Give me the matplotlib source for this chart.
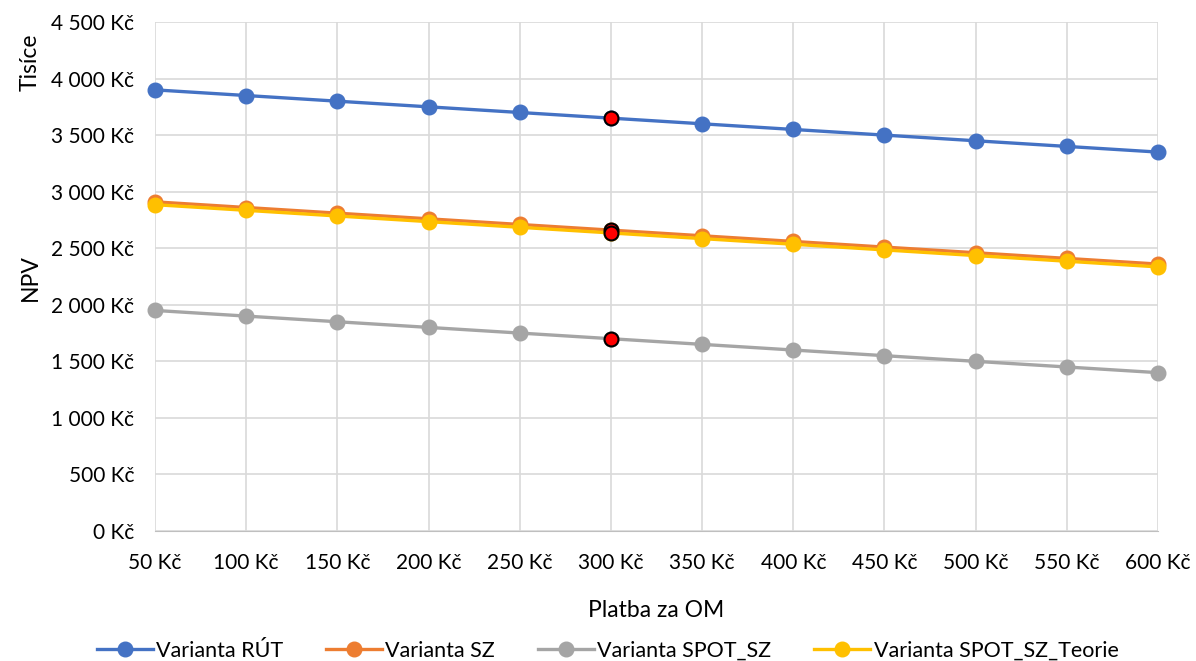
import matplotlib
matplotlib.use("Agg")
import matplotlib.pyplot as plt
from matplotlib.ticker import FuncFormatter, MultipleLocator

plt.rcParams['font.family'] = ['Lato', 'DejaVu Sans']

platba = [50, 100, 150, 200, 250, 300, 350, 400, 450, 500, 550, 600]
rut = [3900, 3850, 3800, 3750, 3700, 3650, 3600, 3550, 3500, 3450, 3400, 3350]
sz = [2910, 2860, 2810, 2760, 2710, 2660, 2610, 2560, 2510, 2460, 2410, 2360]
spot_sz = [1950, 1900, 1850, 1800, 1750, 1700, 1650, 1600, 1550, 1500, 1450, 1400]
spot_teorie = [2885, 2835, 2785, 2735, 2685, 2635, 2585, 2535, 2485, 2435, 2385, 2335]
names = ["Varianta RÚT", "Varianta SZ", "Varianta SPOT_SZ", "Varianta SPOT_SZ_Teorie"]
colors = ["#4472C4", "#ED7D31", "#A5A5A5", "#FFC000"]
highlight_x = 300

fig = plt.figure(figsize=(11.96, 6.61), dpi=100)
ax = fig.add_axes([155/1196, 1 - 531/661, (1158-155)/1196, (531-22)/661])

series = [rut, sz, spot_sz, spot_teorie]
for vals, name, c in zip(series, names, colors):
    ax.plot(platba, vals, color=c, lw=2.4, marker='o', ms=10.5, label=name,
            markeredgecolor=c, zorder=3, clip_on=False)

hi = platba.index(highlight_x)
for vals in series:
    ax.plot([highlight_x], [vals[hi]], 'o', ms=10, markerfacecolor='#FF0000',
            markeredgecolor='black', markeredgewidth=1.5, zorder=5)

ax.set_xlim(50, 600)
ax.set_ylim(0, 4500)
ax.xaxis.set_major_locator(MultipleLocator(50))
ax.yaxis.set_major_locator(MultipleLocator(500))

def fmt(v, pos):
    s = f"{int(round(v)):,}".replace(",", " ")
    return f"{s} Kč"
ax.xaxis.set_major_formatter(FuncFormatter(fmt))
ax.yaxis.set_major_formatter(FuncFormatter(fmt))

ax.grid(True, color='#D9D9D9', lw=1.2, zorder=0)
for s in ['top', 'right', 'left']:
    ax.spines[s].set_visible(False)
ax.spines['bottom'].set_color('#BFBFBF')
ax.tick_params(length=0, labelsize=15, colors='black')
ax.tick_params(axis='y', pad=15)
ax.tick_params(axis='x', pad=16)

ax.set_xlabel("Platba za OM", fontsize=16.5, labelpad=19)
fig.text(30/1196, 1 - 278/661, "NPV", rotation=90, ha='center', va='center', fontsize=16.5)
fig.text(30/1196, 1 - 62/661, "Tisíce", rotation=90, ha='center', va='center', fontsize=16.5)

fig.legend(*ax.get_legend_handles_labels(), loc='center', bbox_to_anchor=(0.508, 1 - 651/661),
           ncol=4, frameon=False, fontsize=15.5, handlelength=2.6, columnspacing=2.0,
           handletextpad=0.15, borderaxespad=0)

fig.savefig("out.png", dpi=100)
